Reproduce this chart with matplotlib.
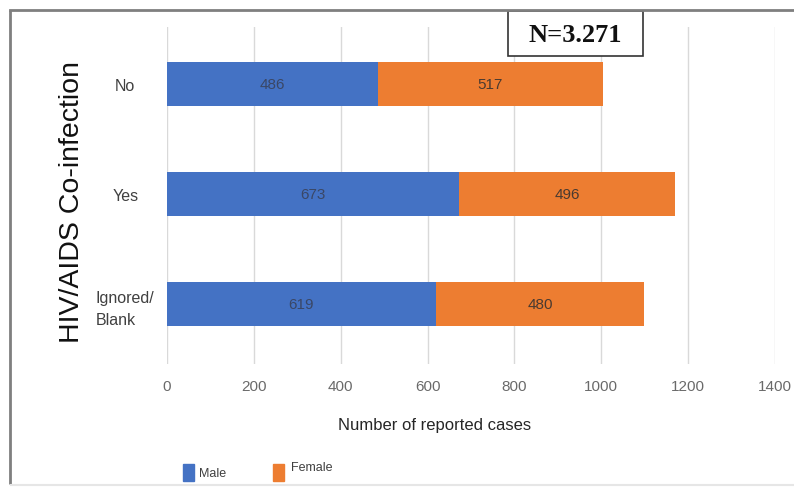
import numpy as np
import matplotlib.pyplot as plt
from matplotlib.lines import Line2D
from matplotlib.patches import Rectangle

# reported cases by HIV/AIDS co-infection status and sex
categories = ['No', 'Yes', 'Ignored/\nBlank']
male = [486, 673, 619]
female = [517, 496, 480]
x_ticks = [0, 200, 400, 600, 800, 1000, 1200, 1400]
total_label = 'N=3.271'

blue = '#4472C4'
orange = '#ED7D31'

plt.rcParams['font.family'] = ['Liberation Sans', 'DejaVu Sans']

fig = plt.figure(figsize=(7.94, 4.89), dpi=100)
ax = fig.add_axes([0.2103, 0.2536, 0.7657, 0.689])

y = np.arange(len(categories))
ax.barh(y, male, height=0.4, color=blue, zorder=3)
ax.barh(y, female, height=0.4, left=male, color=orange, zorder=3)

# value labels in the middle of each segment
for i in range(len(categories)):
    ax.text(male[i] / 2, y[i], str(male[i]), ha='center', va='center',
            fontsize=11, color='#3a4766', zorder=4)
    ax.text(male[i] + female[i] / 2, y[i], str(female[i]), ha='center', va='center',
            fontsize=11, color='#4a3a30', zorder=4)

ax.set_xlim(0, 1400)
ax.set_ylim(2.55, -0.52)
ax.set_xticks(x_ticks)
ax.set_xticklabels([str(t) for t in x_ticks], fontsize=11, color='#6a6a6a')
ax.set_yticks(y)
ax.set_yticklabels(categories, fontsize=11.5, color='#404040')
for lbl in ax.get_yticklabels():
    lbl.set_ha('center')
    lbl.set_multialignment('left')
    lbl.set_linespacing(1.55)
ax.tick_params(axis='y', length=0, pad=30)
ax.tick_params(axis='x', length=0, pad=11)
ax.grid(axis='x', color='#d9d9d9', linewidth=1, zorder=0)
for s in ax.spines.values():
    s.set_visible(False)

fig.text(72 / 794, 1 - 202 / 489, 'HIV/AIDS Co-infection', rotation=90,
         ha='center', va='center', fontsize=20.5, color='#111111')
fig.text(435 / 794, 1 - 426 / 489, 'Number of reported cases', ha='center', va='center',
         fontsize=12, color='#262626')

# legend drawn by hand below the axis title
fig.patches.append(Rectangle((183 / 794, 1 - 482 / 489), 11 / 794, 17 / 489,
                             transform=fig.transFigure, color=blue))
fig.text(199 / 794, 1 - 474 / 489, 'Male', ha='left', va='center', fontsize=9, color='#404040')
fig.patches.append(Rectangle((273 / 794, 1 - 482 / 489), 11 / 794, 17 / 489,
                             transform=fig.transFigure, color=orange))
fig.text(291 / 794, 1 - 468 / 489, 'Female', ha='left', va='center', fontsize=9, color='#404040')

# N box
fig.patches.append(Rectangle((508 / 794, 1 - 57 / 489), 135 / 794, 45 / 489,
                             transform=fig.transFigure, facecolor='white',
                             edgecolor='#333333', linewidth=1.2, zorder=5))
fig.text(575 / 794, 1 - 35 / 489, total_label, ha='center', va='center',
         fontsize=19, fontweight='bold', family=['Liberation Serif', 'DejaVu Serif'],
         color='#111111', zorder=6)

# outer frame
fig.lines.append(Line2D([10 / 794, 1.0], [1 - 11 / 489, 1 - 11 / 489], transform=fig.transFigure,
                        color='#7f7f7f', linewidth=2, zorder=7))
fig.lines.append(Line2D([10 / 794, 10 / 794], [1 - 11 / 489, 1 - 485 / 489], transform=fig.transFigure,
                        color='#7f7f7f', linewidth=2, solid_capstyle='butt'))
fig.lines.append(Line2D([11 / 794, 1.0], [1 - 486 / 489, 1 - 486 / 489], transform=fig.transFigure,
                        color='#e6e6e6', linewidth=1.5))

fig.savefig('out.png', dpi=100)
